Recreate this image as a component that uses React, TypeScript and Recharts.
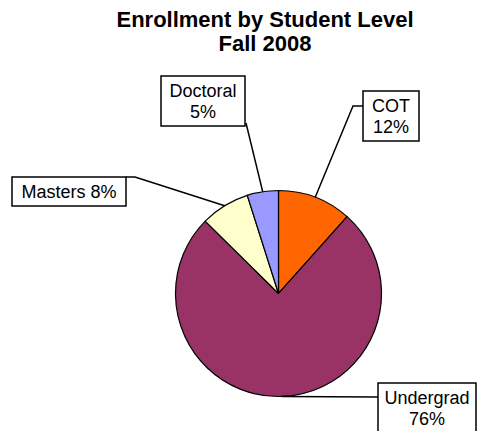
import { Cell, Pie, PieChart } from 'recharts'

const levels = ['COT', 'Undergrad', 'Masters', 'Doctoral']
const shares = [11.6, 75.8, 7.7, 4.9]
const shareLabels = ['12%', '76%', '8%', '5%']
const COLORS = ['#ff6600', '#993366', '#ffffcc', '#9999ff']

// label boxes: position of the callout box and the elbow of its leader line
const BOXES = [
  { x: 363, y: 91, w: 56, h: 50, lines: [levels[0], shareLabels[0]], path: [[353, 106], [363, 106]] },
  { x: 378, y: 383, w: 98, h: 60, lines: [levels[1], shareLabels[1]], path: [[378, 397]] },
  { x: 12, y: 177, w: 114, h: 29, lines: [`${levels[2]} ${shareLabels[2]}`], path: [[135, 177], [126, 177]] },
  { x: 161, y: 76, w: 84, h: 50, lines: [levels[3], shareLabels[3]], path: [[246, 123]] },
]

const data = levels.map((name, i) => ({ name, value: shares[i] }))

const RADIAN = Math.PI / 180
const FONT = '"Liberation Sans", Arial, sans-serif'

function renderLabel(props: any) {
  const { cx, cy, midAngle, outerRadius, index } = props
  const box = BOXES[index]
  const sx = cx + outerRadius * Math.cos(-midAngle * RADIAN)
  const sy = cy + outerRadius * Math.sin(-midAngle * RADIAN)
  const pts = [[sx, sy], ...box.path].map((p) => p.join(',')).join(' ')
  const mid = box.x + box.w / 2
  return (
    <g key={`lbl-${index}`}>
      <polyline points={pts} fill="none" stroke="#000" strokeWidth={1.5} />
      <rect x={box.x} y={box.y} width={box.w} height={box.h} fill="#fff" stroke="#000" strokeWidth={1.5} />
      {box.lines.map((t, j) => (
        <text key={j} x={mid} y={box.y + 21 + j * 21} textAnchor="middle" fontFamily={FONT} fontSize={18} fill="#000">
          {t}
        </text>
      ))}
    </g>
  )
}

export default function App() {
  return (
    <div style={{ position: 'absolute', left: 0, top: 0, width: 479, height: 431, background: '#fff' }}>
      <div
        style={{
          position: 'absolute',
          left: 0,
          width: 530,
          top: 8,
          textAlign: 'center',
          fontFamily: FONT,
          fontWeight: 'bold',
          fontSize: 22,
          lineHeight: '24px',
        }}
      >
        Enrollment by Student Level
        <br />
        Fall 2008
      </div>
      <PieChart
        width={479}
        height={431}
        margin={{ top: 0, right: 0, bottom: 0, left: 0 }}
        style={{ position: 'absolute', left: 0, top: 0 }}
      >
        <Pie
          data={data}
          dataKey="value"
          nameKey="name"
          cx={278.5}
          cy={293.5}
          outerRadius={103}
          startAngle={90}
          endAngle={-270}
          stroke="#000"
          strokeWidth={1.2}
          label={renderLabel}
          labelLine={false}
          isAnimationActive={false}
        >
          {data.map((d, i) => (
            <Cell key={d.name} fill={COLORS[i]} />
          ))}
        </Pie>
      </PieChart>
    </div>
  )
}
